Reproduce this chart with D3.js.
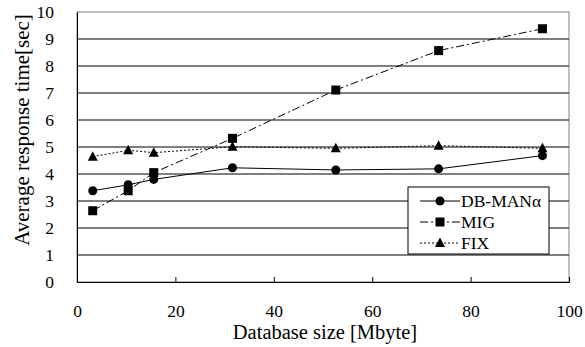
<!DOCTYPE html>
<html>
<head>
<meta charset="utf-8">
<script src="https://cdn.jsdelivr.net/npm/d3@7"></script>
<style>
  html, body { margin: 0; padding: 0; background: #fff; }
  svg text { font-family: "Liberation Serif", "Times New Roman", serif !important; }
</style>
</head>
<body>
<div id="chart"></div>
<script>
var xs = [3.2, 10.4, 15.6, 31.6, 52.6, 73.5, 94.6];
var dbman = [3.38, 3.6, 3.8, 4.23, 4.15, 4.19, 4.68];
var mig = [2.64, 3.38, 4.05, 5.32, 7.11, 8.57, 9.38];
var fix = [4.64, 4.88, 4.79, 5.01, 4.95, 5.05, 4.95];
var xTicks = [0, 20, 40, 60, 80, 100];
var yTicks = [0, 1, 2, 3, 4, 5, 6, 7, 8, 9, 10];

var series = [
  { name: 'DB-MANα', values: dbman, dash: null, marker: 'circle' },
  { name: 'MIG', values: mig, dash: '8,3,2,3', marker: 'square' },
  { name: 'FIX', values: fix, dash: '2,2', marker: 'triangle' }
];

var W = 585, H = 347;
var m = { left: 77, right: 16, top: 12, bottom: 65 };

var svg = d3.select('#chart').append('svg')
  .attr('width', W).attr('height', H);

var x = d3.scaleLinear().domain([0, 100]).range([m.left, W - m.right]);
var y = d3.scaleLinear().domain([0, 10]).range([H - m.bottom, m.top]);

/* plot frame */
svg.append('rect')
  .attr('x', x(0)).attr('y', y(10))
  .attr('width', x(100) - x(0)).attr('height', y(0) - y(10))
  .attr('fill', 'none').attr('stroke', '#808080').attr('stroke-width', 1);

/* horizontal grid */
svg.append('g').selectAll('line')
  .data(yTicks.filter(function (d) { return d > 0 && d < 10; }))
  .enter().append('line')
  .attr('x1', x(0)).attr('x2', x(100))
  .attr('y1', function (d) { return y(d); }).attr('y2', function (d) { return y(d); })
  .attr('stroke', '#000').attr('stroke-width', 1);

/* axes */
var xAxis = svg.append('g')
  .attr('transform', 'translate(0,' + y(0) + ')')
  .call(d3.axisBottom(x).tickValues(xTicks).tickSize(-5).tickPadding(23));
var yAxis = svg.append('g')
  .attr('transform', 'translate(' + x(0) + ',0)')
  .call(d3.axisLeft(y).tickValues(yTicks).tickSize(0).tickPadding(23));

[xAxis, yAxis].forEach(function (g) {
  g.attr('font-family', null);
  g.select('.domain').attr('stroke', '#000');
  g.selectAll('line').attr('stroke', '#000');
  g.selectAll('text').attr('font-size', 17.5).attr('fill', '#000');
});

/* axis titles */
svg.append('text')
  .attr('x', (x(0) + x(100)) / 2 + 2).attr('y', 339)
  .attr('text-anchor', 'middle').attr('font-size', 20.5)
  .text('Database size [Mbyte]');
svg.append('text')
  .attr('transform', 'translate(29,' + 130 + ') rotate(-90)')
  .attr('text-anchor', 'middle').attr('font-size', 21)
  .text('Average response time[sec]');

function drawMarker(g, type, cx, cy) {
  if (type === 'circle') {
    g.append('circle').attr('cx', cx).attr('cy', cy).attr('r', 4.5).attr('fill', '#000');
  } else if (type === 'square') {
    g.append('rect').attr('x', cx - 4.5).attr('y', cy - 4.5)
      .attr('width', 9).attr('height', 9).attr('fill', '#000');
  } else {
    g.append('path')
      .attr('d', 'M' + cx + ',' + (cy - 5.5) + 'L' + (cx + 5) + ',' + (cy + 4) + 'L' + (cx - 5) + ',' + (cy + 4) + 'Z')
      .attr('fill', '#000');
  }
}

var line = d3.line()
  .x(function (d) { return x(d[0]); })
  .y(function (d) { return y(d[1]); });

series.forEach(function (s) {
  var pts = xs.map(function (v, i) { return [v, s.values[i]]; });
  var g = svg.append('g');
  g.append('path').datum(pts)
    .attr('d', line).attr('fill', 'none')
    .attr('stroke', '#000').attr('stroke-width', 1)
    .attr('stroke-dasharray', s.dash);
  pts.forEach(function (p) { drawMarker(g, s.marker, x(p[0]), y(p[1])); });
});

/* legend */
var lg = svg.append('g');
lg.append('rect')
  .attr('x', 408).attr('y', 187).attr('width', 141).attr('height', 67)
  .attr('fill', '#fff').attr('stroke', '#000').attr('stroke-width', 1);
series.forEach(function (s, i) {
  var ly = 201 + i * 21;
  lg.append('line')
    .attr('x1', 420).attr('x2', 460).attr('y1', ly).attr('y2', ly)
    .attr('stroke', '#000').attr('stroke-width', 1)
    .attr('stroke-dasharray', s.dash);
  drawMarker(lg, s.marker, 440, ly);
  lg.append('text')
    .attr('x', 461).attr('y', ly + 6)
    .attr('font-size', 17.5).text(s.name);
});
</script>
</body>
</html>
